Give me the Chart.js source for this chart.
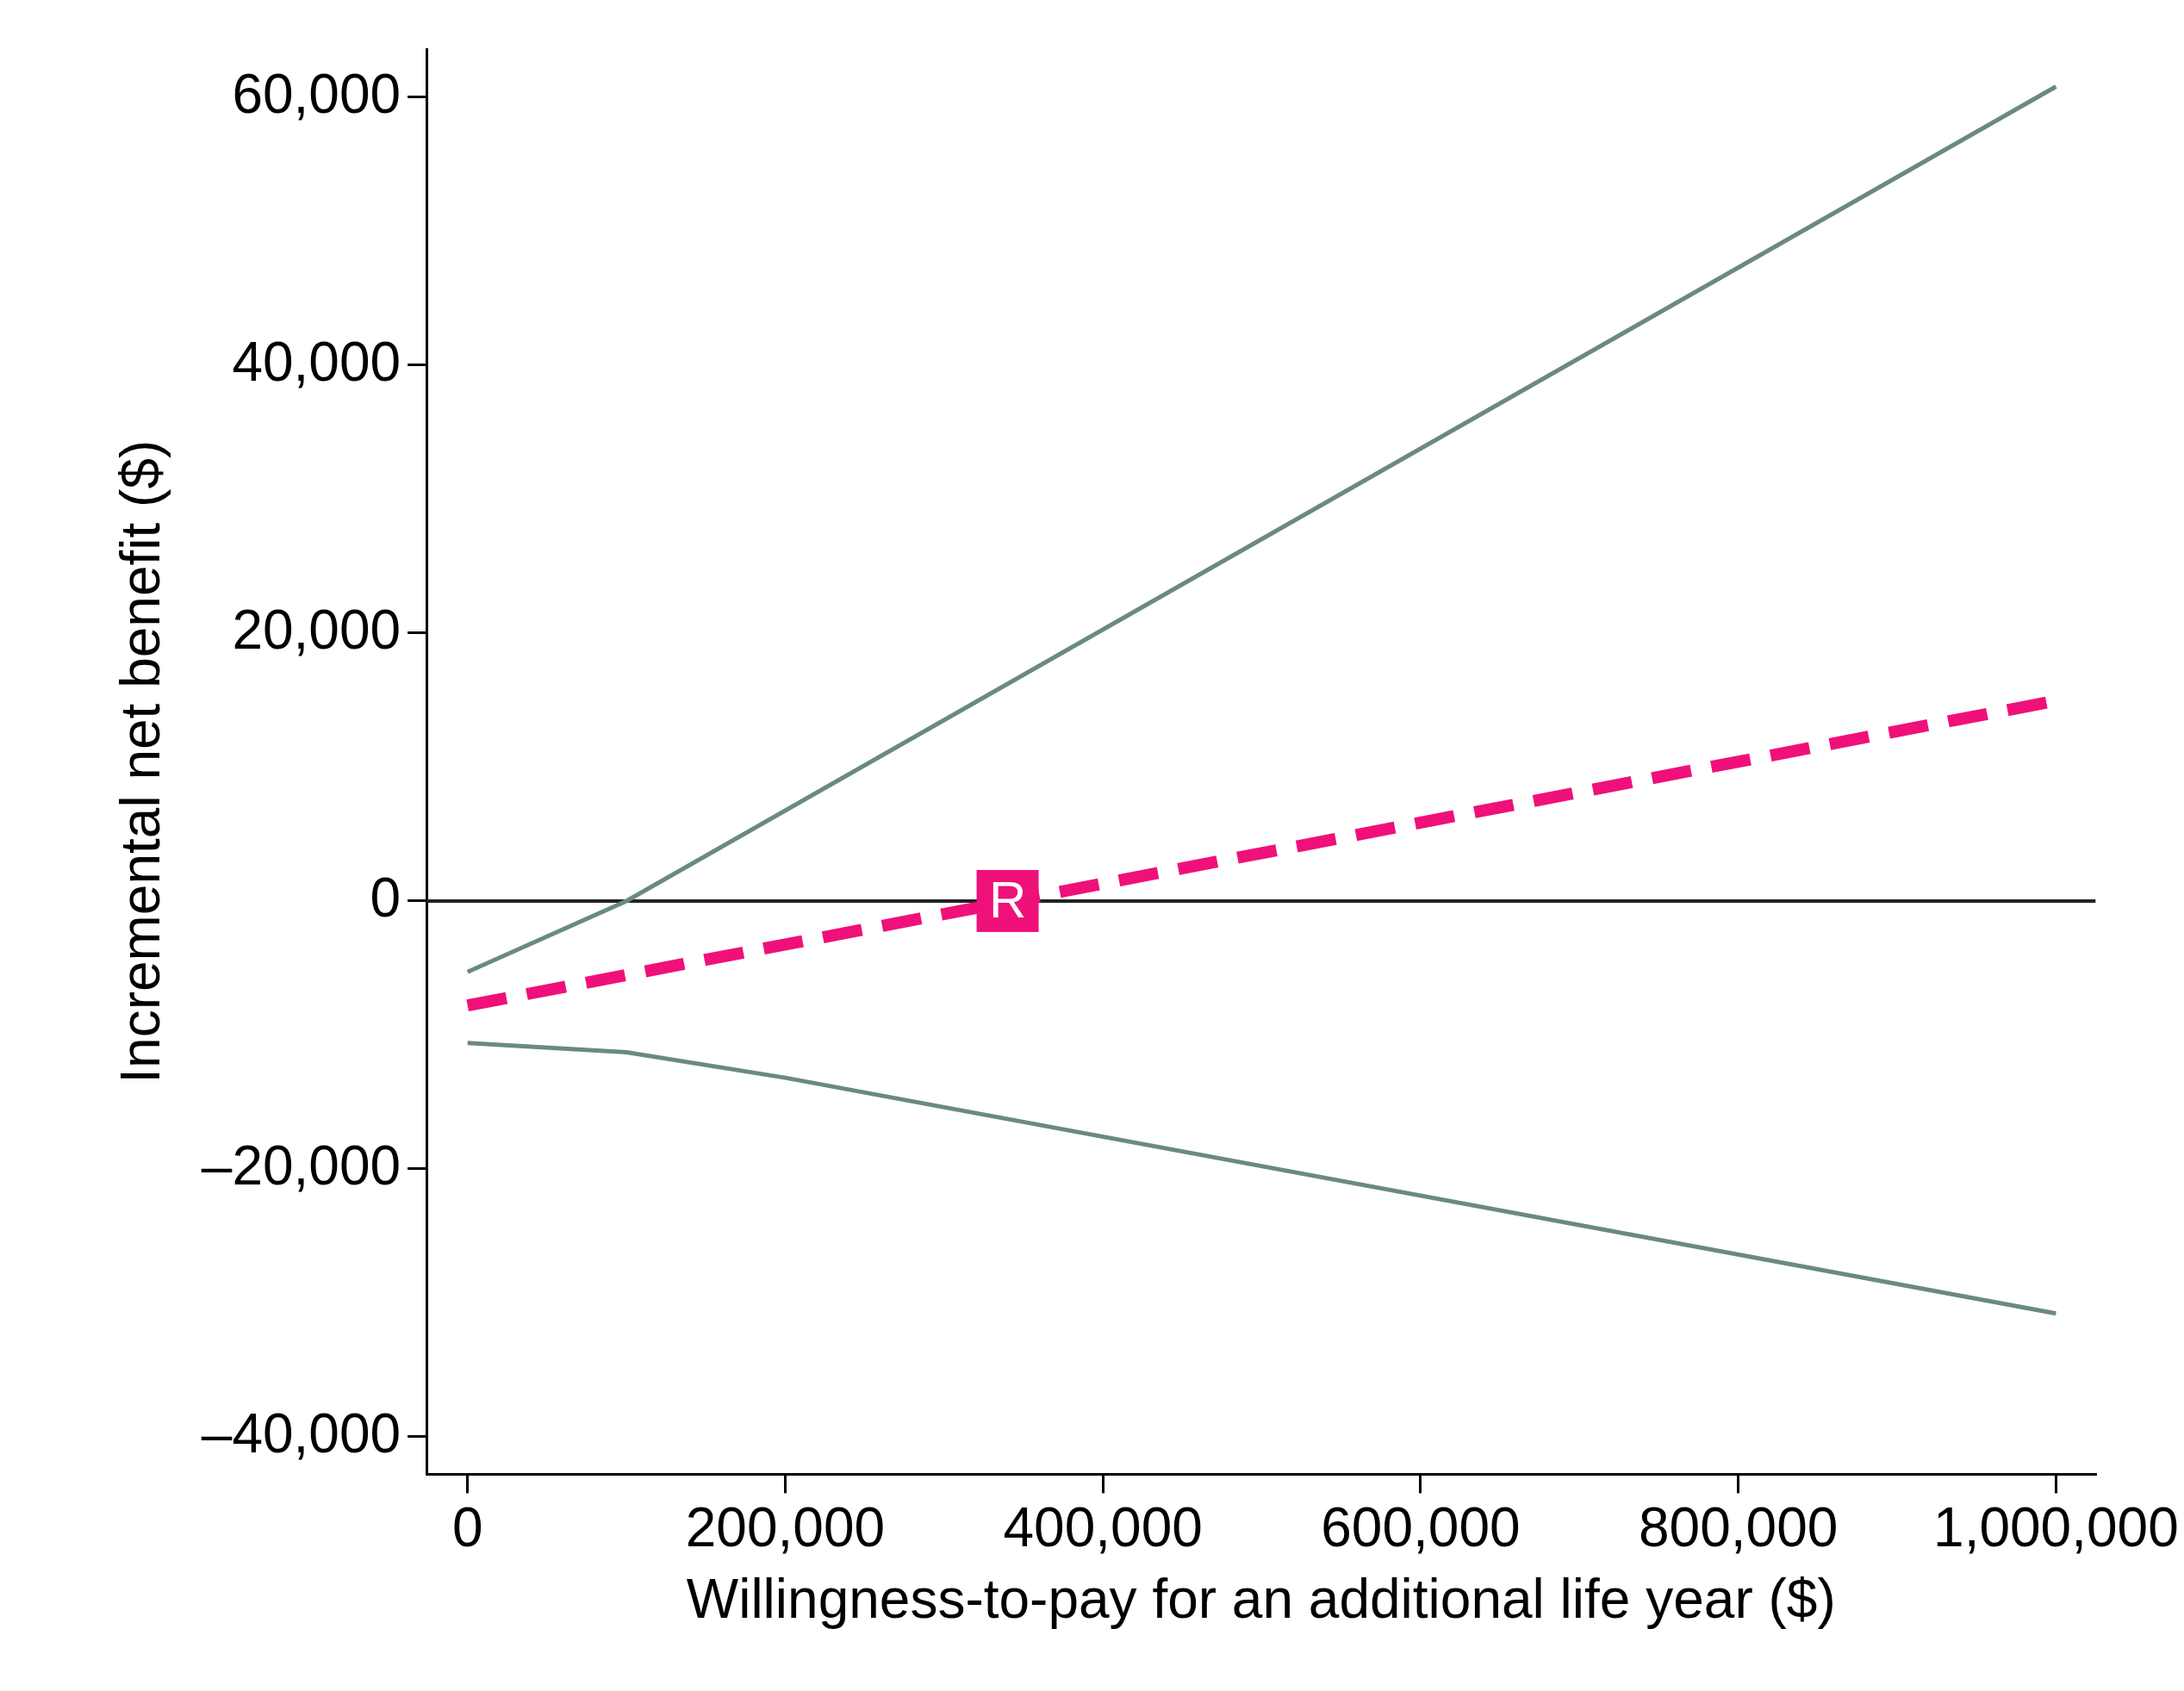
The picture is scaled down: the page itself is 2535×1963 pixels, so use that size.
<!DOCTYPE html>
<html>
<head>
<meta charset="utf-8">
<script src="https://cdn.jsdelivr.net/npm/chart.js@4/dist/chart.umd.min.js"></script>
<style>
  html, body { margin: 0; padding: 0; background: #fff; }
  #wrap { width: 2535px; height: 1963px; }
</style>
</head>
<body>
<div id="wrap"><canvas id="c"></canvas></div>
<script>
// values
var wtpUpper = [0, 100000, 1000000];
var upperBound = [-5300, 0, 60800];
var wtpLower = [0, 100000, 200000, 1000000];
var lowerBound = [-10600, 11300 * -1, -13200, -30800];
var wtpMean = [0, 1000000];
var meanINB = [-7800, 14950];
var markerPoint = { x: 340000, y: 0, label: 'R' };
var xTicks = [0, 200000, 400000, 600000, 800000, 1000000];
var yTicks = [-40000, -20000, 0, 20000, 40000, 60000];

function pts(xs, ys) {
  return xs.map(function (x, i) { return { x: x, y: ys[i] }; });
}
function fmt(v) {
  var s = Math.abs(v).toLocaleString('en-US');
  return v < 0 ? '\u2013' + s : s;
}

var gray = '#6a8a80';
var pink = '#f0107a';
var font = { family: '"Liberation Sans", Arial, sans-serif', size: 64 };

var overlay = {
  id: 'overlay',
  beforeDatasetsDraw: function (chart) {
    var ctx = chart.ctx, x = chart.scales.x, y = chart.scales.y;
    ctx.save();
    ctx.strokeStyle = '#222';
    ctx.lineWidth = 4;
    ctx.beginPath();
    ctx.moveTo(chart.chartArea.left, y.getPixelForValue(0));
    ctx.lineTo(chart.chartArea.right, y.getPixelForValue(0));
    ctx.stroke();
    ctx.restore();
  },
  afterDatasetsDraw: function (chart) {
    var ctx = chart.ctx, x = chart.scales.x, y = chart.scales.y;
    var px = x.getPixelForValue(markerPoint.x), py = y.getPixelForValue(markerPoint.y);
    var s = 72;
    ctx.save();
    ctx.fillStyle = pink;
    ctx.fillRect(px - s / 2, py - s / 2, s, s);
    ctx.fillStyle = '#fff';
    ctx.font = '60px "Liberation Sans", Arial, sans-serif';
    ctx.textAlign = 'center';
    ctx.textBaseline = 'middle';
    ctx.fillText(markerPoint.label, px, py + 3);
    ctx.restore();
  }
};

function keepTicks(list) {
  return function (axis) {
    axis.ticks = list.map(function (v) { return { value: v }; });
  };
}

new Chart(document.getElementById('c'), {
  type: 'line',
  data: {
    datasets: [
      { data: pts(wtpUpper, upperBound), borderColor: gray, borderWidth: 5, pointRadius: 0, fill: false },
      { data: pts(wtpLower, lowerBound), borderColor: gray, borderWidth: 5, pointRadius: 0, fill: false },
      { data: pts(wtpMean, meanINB), borderColor: pink, borderWidth: 14, borderDash: [46, 24], pointRadius: 0, fill: false }
    ]
  },
  options: {
    responsive: true,
    maintainAspectRatio: false,
    animation: false,
    devicePixelRatio: 1,
    layout: { padding: { top: 57, right: 10, bottom: 60, left: 125 } },
    plugins: { legend: { display: false }, tooltip: { enabled: false } },
    scales: {
      x: {
        type: 'linear',
        min: -25800, max: 1024900,
        afterBuildTicks: keepTicks(xTicks),
        border: { display: true, color: '#000', width: 3 },
        grid: { drawOnChartArea: false, drawTicks: true, tickLength: 22, color: '#000', lineWidth: 3 },
        ticks: { color: '#000', font: font, padding: 6, maxRotation: 0, callback: function (v) { return fmt(v); } },
        title: { display: true, text: 'Willingness-to-pay for an additional life year ($)', color: '#000', font: font, padding: { top: 0 } }
      },
      y: {
        type: 'linear',
        min: -42800, max: 63600,
        afterBuildTicks: keepTicks(yTicks),
        border: { display: true, color: '#000', width: 3 },
        grid: { drawOnChartArea: false, drawTicks: true, tickLength: 22, color: '#000', lineWidth: 3 },
        ticks: { color: '#000', font: font, padding: 8, callback: function (v) { return fmt(v); } },
        title: { display: true, text: 'Incremental net benefit ($)', color: '#000', font: font, padding: { bottom: 20 } }
      }
    }
  },
  plugins: [overlay]
});
</script>
</body>
</html>
